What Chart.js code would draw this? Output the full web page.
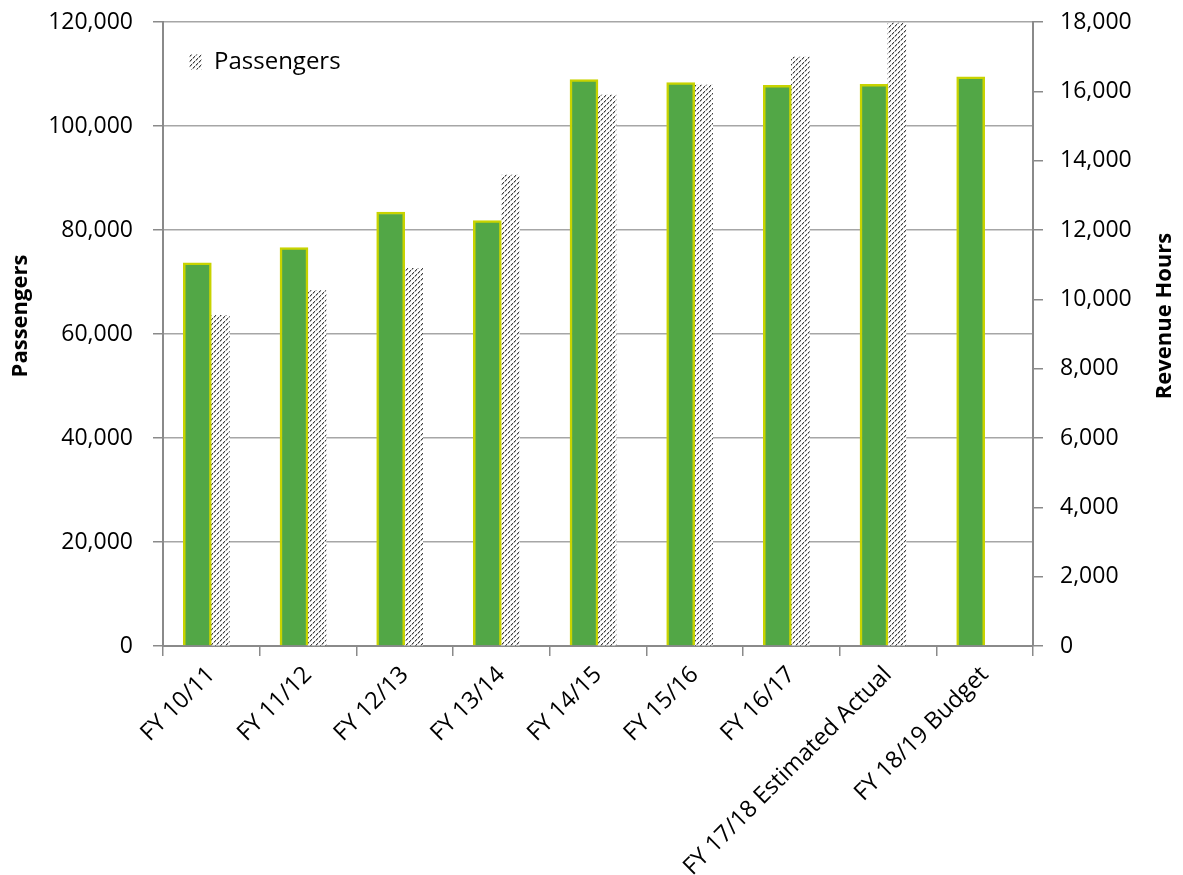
<!DOCTYPE html>
<html>
<head>
<meta charset="utf-8">
<script src="https://cdn.jsdelivr.net/npm/chart.js@4.4.1/dist/chart.umd.min.js"></script>
<style>
  html, body { margin: 0; padding: 0; background: #ffffff; }
  #wrap { width: 1183px; height: 875px; position: relative; }
</style>
</head>
<body>
<div id="wrap"><canvas id="c"></canvas></div>
<script>
// ---- data ----
const categories = ['FY 10/11', 'FY 11/12', 'FY 12/13', 'FY 13/14', 'FY 14/15', 'FY 15/16', 'FY 16/17', 'FY 17/18 Estimated Actual', 'FY 18/19 Budget'];
const revenueHours = [11050, 11490, 12520, 12270, 16340, 16250, 16170, 16200, 16420];
const passengers = [63600, 68330, 72640, 90580, 105960, 107880, 113270, 119800, null];
const passengerTicks = [0, 20000, 40000, 60000, 80000, 100000, 120000];
const hoursTicks = [0, 2000, 4000, 6000, 8000, 10000, 12000, 14000, 16000, 18000];
const leftAxisTitle = 'Passengers';
const rightAxisTitle = 'Revenue Hours';
const legendLabel = 'Passengers';

// ---- styles ----
const FONT = '"Open Sans", "Noto Sans", sans-serif';
const GRID = '#a6a6a6';
const AXIS = '#8a8a8a';

function makeHatch() {
  const s = 15;
  const c = document.createElement('canvas');
  c.width = s; c.height = s;
  const g = c.getContext('2d');
  g.fillStyle = '#ffffff';
  g.fillRect(0, 0, s, s);
  for (let y = 0; y < s; y++) {
    for (let x = 0; x < s; x++) {
      const d = (x + y) % 5;
      if (d === 0) { g.fillStyle = (x % 3 === 0) ? '#b8b8b8' : '#404040'; g.fillRect(x, y, 1, 1); }
      else if (d === 1) { g.fillStyle = (x % 3 === 0) ? '#f2f2f2' : '#b0b0b0'; g.fillRect(x, y, 1, 1); }
    }
  }
  return g.createPattern(c, 'repeat');
}
const hatch = makeHatch();

const fmt = v => Number(v).toLocaleString('en-US');

// axis titles drawn rotated -90° (reading bottom-to-top) on both sides
const axisTitlesPlugin = {
  id: 'axisTitles',
  afterDraw(chart) {
    const { ctx, chartArea } = chart;
    const cy = (chartArea.top + chartArea.bottom) / 2 - 18;
    const draw = (text, x) => {
      ctx.save();
      ctx.translate(x, cy);
      ctx.rotate(-Math.PI / 2);
      ctx.font = 'bold 22px ' + FONT;
      ctx.textAlign = 'center';
      ctx.textBaseline = 'middle';
      ctx.fillStyle = '#000000';
      ctx.fillText(text, 0, 0);
      ctx.restore();
    };
    draw(leftAxisTitle, chart.scales.y.left + 21);
    draw(rightAxisTitle, chart.scales.y1.right - 18);
  }
};

new Chart(document.getElementById('c'), {
  type: 'bar',
  data: {
    labels: categories,
    datasets: [
      {
        label: rightAxisTitle,
        data: revenueHours,
        yAxisID: 'y1',
        backgroundColor: '#52a746',
        borderColor: '#c8d300',
        borderWidth: 2.5,
        barThickness: 28
      },
      {
        label: legendLabel,
        data: passengers,
        yAxisID: 'y',
        backgroundColor: hatch,
        borderWidth: 0,
        barThickness: 18
      }
    ]
  },
  options: {
    responsive: true,
    maintainAspectRatio: false,
    animation: false,
    devicePixelRatio: 1,
    layout: { padding: { top: 22, left: 0, right: 0, bottom: 0 } },
    plugins: {
      legend: {
        position: 'chartArea',
        align: 'start',
        title: { display: true, text: ' ', font: { size: 10 }, padding: { top: 0, bottom: 12 } },
        labels: {
          filter: item => item.datasetIndex === 1,
          boxWidth: 13,
          boxHeight: 15,
          padding: 26,
          color: '#000000',
          font: { family: FONT, size: 24 }
        }
      },
      tooltip: { enabled: false }
    },
    scales: {
      x: {
        grid: { offset: true, drawOnChartArea: false, drawTicks: true, tickLength: 10, color: AXIS, lineWidth: 1.5 },
        border: { display: true, color: AXIS, width: 2 },
        ticks: { maxRotation: 45, minRotation: 45, color: '#000000', padding: 5, font: { family: FONT, size: 23.5 } },
        afterFit: s => { s.height = 229; s.paddingLeft = 0; s.paddingRight = 0; }
      },
      y: {
        position: 'left',
        min: 0, max: 120000,
        afterBuildTicks: s => { s.ticks = passengerTicks.map(v => ({ value: v })); },
        grid: { color: GRID, lineWidth: 1.5, drawTicks: true, tickLength: 10, tickColor: AXIS },
        border: { display: true, color: AXIS, width: 2 },
        ticks: { color: '#000000', padding: 20, font: { family: FONT, size: 23 }, callback: v => fmt(v) },
        afterFit: s => { s.width = 163; s.paddingTop = 0; s.paddingBottom = 0; }
      },
      y1: {
        position: 'right',
        min: 0, max: 18000,
        afterBuildTicks: s => { s.ticks = hoursTicks.map(v => ({ value: v })); },
        grid: { drawOnChartArea: false, drawTicks: true, tickLength: 10, color: AXIS, lineWidth: 1.5 },
        border: { display: true, color: AXIS, width: 2 },
        ticks: { color: '#000000', padding: 17, font: { family: FONT, size: 23 }, callback: v => fmt(v) },
        afterFit: s => { s.width = 150; s.paddingTop = 0; s.paddingBottom = 0; }
      }
    }
  },
  plugins: [axisTitlesPlugin]
});
</script>
</body>
</html>
